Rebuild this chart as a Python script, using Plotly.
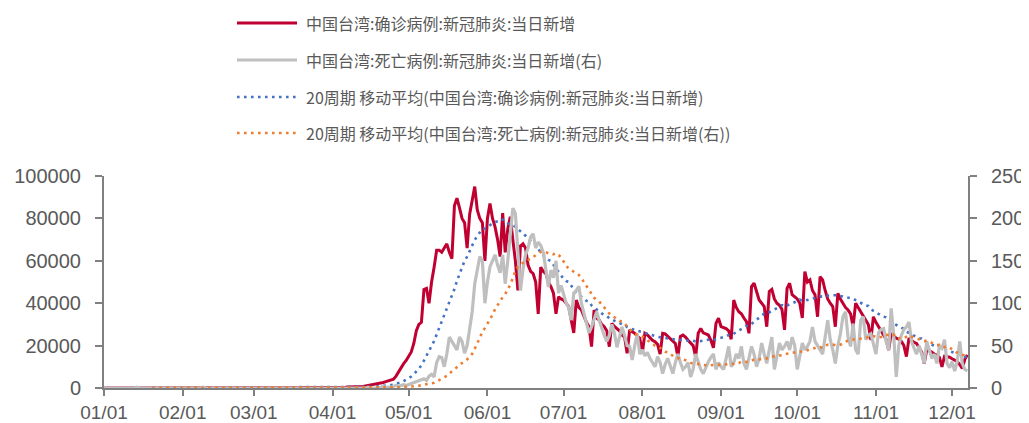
import pandas as pd
import plotly.graph_objects as go

# ---------------- data (daily, starting 2022-01-01) ----------------
start_date = "2022-01-01"

cases_jan = [20, 15, 25, 30, 35, 40, 45, 50, 40, 46, 57, 62, 61, 66, 65, 72, 50, 45, 90, 60,
             58, 70, 55, 56, 53, 49, 68, 60, 41, 74, 60]
cases_feb = [47, 35, 33, 29, 58, 51, 32, 49, 64, 46, 42, 44, 53, 36, 46, 40, 60, 71, 53, 42,
             46, 56, 49, 28, 62, 66, 63, 75]
cases_mar = [41, 44, 62, 87, 68, 62, 58, 90, 59, 87, 84, 88, 90, 114, 141, 145, 122, 113, 120,
             177, 173, 144, 171, 153, 161, 118, 160, 144, 137, 197, 243]
cases_apr = [200, 310, 290, 260, 330, 380, 480, 500, 490, 520, 540, 610, 730, 1000, 1200, 1400,
             1500, 1650, 1850, 2400, 2600, 3000, 3400, 3800, 4200, 5600, 7600, 9800, 11500, 13000]
cases_may = [15000, 17000, 21000, 27000, 30000, 31000, 46500, 47000, 40000, 50000, 57000, 65000,
             65000, 64000, 66000, 68000, 64000, 61000, 86000, 89500, 85000, 80000, 78000, 66000,
             82000, 88000, 95000, 84000, 80000, 78000, 60000]
cases_jun = [80000, 87000, 80000, 76000, 70000, 62000, 82500, 64000, 75000, 80800, 70000, 60000,
             46000, 67000, 68000, 66000, 58000, 55000, 54000, 50000, 35000, 57000, 55000, 54000,
             50000, 47800, 44700, 35000, 43000, 42000]
cases_jul = [41500, 40000, 38400, 32000, 26000, 41500, 38000, 36800, 33600, 31000, 28900, 19500,
             36800, 33000, 32100, 30000, 28900, 27000, 19500, 30500, 29000, 28000, 27000, 25000,
             24000, 16400, 27400, 26500, 25800, 24500, 23500]
cases_aug = [16400, 25800, 25000, 23500, 22500, 21800, 20600, 16000, 25800, 25500, 24300, 23000,
             22000, 21000, 14800, 24300, 25000, 24000, 22500, 21000, 20000, 14800, 25800, 28100,
             26000, 25500, 25000, 22500, 19000, 30500, 32900]
cases_sep = [29000, 28500, 28000, 27000, 23000, 41500, 38000, 36000, 35000, 33000, 31300, 25800,
             47800, 49400, 45000, 41500, 40000, 38400, 28900, 45500, 46500, 42000, 40000, 39000,
             37000, 27400, 47000, 49400, 44000, 43000]
cases_oct = [42000, 40000, 33000, 54900, 50000, 51000, 46000, 44000, 33600, 52500, 51000, 46000,
             42000, 40000, 38400, 28900, 44700, 42000, 40000, 38000, 36800, 35000, 28900, 40000,
             38000, 36000, 34000, 32100, 30000, 22600, 33600]
cases_nov = [31000, 29000, 27000, 25000, 23000, 17900, 25800, 24500, 23500, 23000, 22000, 20000,
             14800, 23500, 22500, 21500, 21000, 19000, 17000, 11600, 17900, 17500, 17000, 16000,
             15500, 14500, 10000, 15000, 14800, 14500]
cases_dec = [13800, 13000, 12500, 11000, 9300, 13500, 15600]

deaths_jan = [0] * 13 + [1] + [0] * 17
deaths_feb = [0] * 8 + [1] + [0] * 19
deaths_mar = [0] * 31
deaths_apr = [0, 0, 0, 0, 0, 0, 0, 0, 0, 0, 0, 0, 0, 0, 1, 0, 0, 0, 0, 1, 2, 0, 1, 1, 2, 3, 2, 3, 4, 3]
deaths_may = [4, 5, 6, 8, 9, 10, 11, 9, 14, 16, 13, 30, 37, 36, 25, 40, 60, 55, 50, 45, 60, 55,
              41, 50, 70, 90, 123, 140, 155, 150, 100]
deaths_jun = [125, 143, 150, 157, 145, 136, 157, 123, 150, 178, 212, 206, 155, 115, 140, 157, 165,
              178, 182, 165, 172, 168, 160, 140, 119, 139, 130, 150, 112, 121]
deaths_jul = [110, 100, 95, 80, 112, 115, 120, 100, 88, 78, 65, 72, 82, 90, 80, 70, 62, 55, 62,
              75, 65, 48, 60, 72, 62, 50, 49, 33, 50, 64, 40]
deaths_aug = [45, 38, 42, 35, 30, 25, 37, 30, 17, 28, 35, 25, 17, 30, 40, 30, 22, 25, 30, 13, 22,
              40, 30, 22, 17, 25, 31, 36, 40, 22, 30]
deaths_sep = [25, 22, 35, 49, 25, 30, 40, 35, 49, 29, 22, 35, 49, 40, 25, 35, 53, 40, 29, 45, 60,
              22, 40, 53, 45, 49, 55, 45, 60, 50]
deaths_oct = [22, 40, 53, 45, 49, 55, 72, 55, 49, 45, 40, 60, 80, 57, 45, 29, 50, 64, 84, 90, 60,
              49, 76, 45, 40, 80, 84, 57, 62, 64, 50]
deaths_nov = [40, 65, 69, 70, 55, 45, 94, 62, 13, 50, 62, 69, 72, 78, 55, 47, 40, 50, 40, 29, 55,
              45, 35, 40, 29, 50, 47, 57, 29, 24]
deaths_dec = [31, 20, 31, 55, 29, 22, 20]

ma_window = 20
tick_dates = ["2022-%02d-01" % m for m in range(1, 13)]
tick_labels = ["%02d/01" % m for m in range(1, 13)]
left_ticks = [0, 20000, 40000, 60000, 80000, 100000]
right_ticks = [0, 50, 100, 150, 200, 250]

series_names = [
    "中国台湾:确诊病例:新冠肺炎:当日新增",
    "中国台湾:死亡病例:新冠肺炎:当日新增(右)",
    "20周期 移动平均(中国台湾:确诊病例:新冠肺炎:当日新增)",
    "20周期 移动平均(中国台湾:死亡病例:新冠肺炎:当日新增(右))",
]

# ---------------- build ----------------
cases = (cases_jan + cases_feb + cases_mar + cases_apr + cases_may + cases_jun +
         cases_jul + cases_aug + cases_sep + cases_oct + cases_nov + cases_dec)
deaths = (deaths_jan + deaths_feb + deaths_mar + deaths_apr + deaths_may + deaths_jun +
          deaths_jul + deaths_aug + deaths_sep + deaths_oct + deaths_nov + deaths_dec)
n = min(len(cases), len(deaths))
cases, deaths = cases[:n], deaths[:n]
dates = pd.date_range(start_date, periods=n, freq="D")
cases_ma = pd.Series(cases).rolling(ma_window).mean()
deaths_ma = pd.Series(deaths).rolling(ma_window).mean()

RED = "#C00031"
GRAY = "#BFBFBF"
BLUE = "#4472C4"
ORANGE = "#ED7D31"
TXT = "#595959"
AX = "#808080"

W, H = 1029, 423
OFF = 8  # page body margin offset
# target pixel geometry on screen: plot area x 104..968, y 176..388
ML = 104 - OFF
MT = 176 - OFF
PW = 968 - 104
PH = 388 - 176
MR = W - ML - PW
MB = H - MT - PH


def px(x):
    return (x - 104) / PW


def py(y):
    return (388 - y) / PH


fig = go.Figure()
fig.add_trace(go.Scatter(x=dates, y=cases, mode="lines", name=series_names[0],
                         line=dict(color=RED, width=3), yaxis="y", showlegend=False))
fig.add_trace(go.Scatter(x=dates, y=deaths, mode="lines", name=series_names[1],
                         line=dict(color=GRAY, width=3.2), yaxis="y2", showlegend=False))
fig.add_trace(go.Scatter(x=dates, y=cases_ma, mode="lines", name=series_names[2],
                         line=dict(color=BLUE, width=2.6, dash="2.6px,4.4px"), yaxis="y",
                         showlegend=False))
fig.add_trace(go.Scatter(x=dates, y=deaths_ma, mode="lines", name=series_names[3],
                         line=dict(color=ORANGE, width=2.6, dash="2.6px,4.4px"), yaxis="y2",
                         showlegend=False))

# custom legend (long sample lines like the original)
leg_rows = [23, 60, 97, 133]
leg_styles = [(RED, 3, "solid"), (GRAY, 3.2, "solid"),
              (BLUE, 2.6, "2.6px,4.4px"), (ORANGE, 2.6, "2.6px,4.4px")]
shapes = []
annotations = []
for row_y, name, (col, wdt, dsh) in zip(leg_rows, series_names, leg_styles):
    shapes.append(dict(type="line", xref="paper", yref="paper",
                       x0=px(237), x1=px(297), y0=py(row_y), y1=py(row_y),
                       line=dict(color=col, width=wdt, dash=dsh)))
    annotations.append(dict(xref="paper", yref="paper", x=px(304), y=py(row_y),
                            xanchor="left", yanchor="middle", showarrow=False, text=name,
                            font=dict(family="Noto Sans CJK SC", size=16, color=TXT)))

x_font = dict(family="Arial, Liberation Sans, sans-serif", size=19, color=TXT)
y_font = dict(family="Arial, Liberation Sans, sans-serif", size=20, color=TXT)

fig.update_layout(
    width=W, height=H,
    margin=dict(l=ML, r=MR, t=MT, b=MB, autoexpand=False),
    paper_bgcolor="white", plot_bgcolor="white",
    shapes=shapes, annotations=annotations,
    xaxis=dict(type="date", range=["2022-01-01", "2022-12-07 06:00"], automargin=False,
               tickvals=tick_dates, ticktext=tick_labels, tickfont=x_font,
               showgrid=False, zeroline=False, showline=True, linecolor=AX, linewidth=2,
               ticks="outside", ticklen=6, tickcolor=AX, tickwidth=1.5,
               ticklabelstandoff=0),
    yaxis=dict(range=[0, 100000], tickvals=left_ticks, tickformat="d", tickfont=y_font,
               automargin=False,
               showgrid=False, zeroline=False, showline=True, linecolor=AX, linewidth=2,
               ticks="outside", ticklen=7, tickcolor=AX, tickwidth=1.5,
               ticklabelstandoff=10),
    yaxis2=dict(range=[0, 250], tickvals=right_ticks, tickfont=y_font, overlaying="y",
                automargin=False,
                side="right", showgrid=False, zeroline=False, showline=True, linecolor=AX,
                linewidth=2, ticks="outside", ticklen=7, tickcolor=AX, tickwidth=1.5,
                ticklabelstandoff=10),
)

fig.write_html("out.html")
